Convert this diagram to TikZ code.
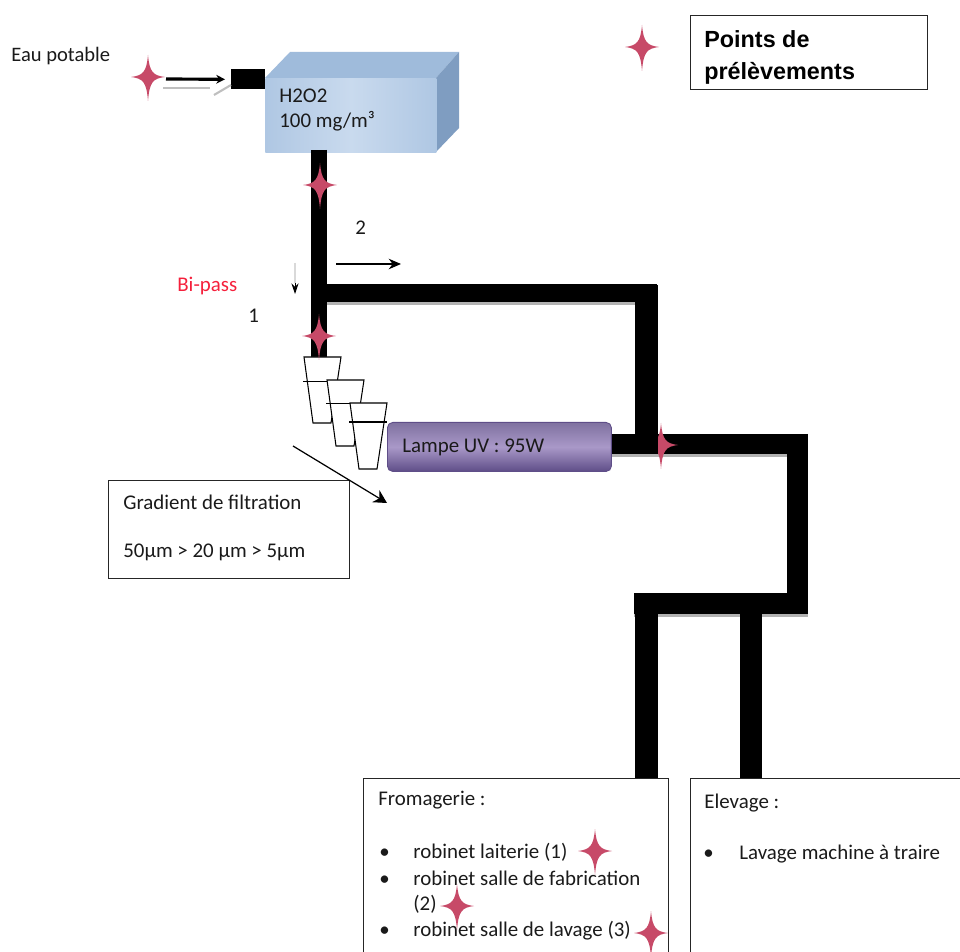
\documentclass[tikz,border=0pt]{standalone}
\usepackage{fontspec}
\usepackage{xcolor}
\usepackage{tikz}
\usetikzlibrary{arrows.meta}
\setmainfont{Carlito}
\newfontfamily\arialfont{Liberation Sans}
\definecolor{TankFront}{HTML}{C9DAEE}
\definecolor{TankEdge}{HTML}{AFC7E3}
\definecolor{TankTop}{HTML}{9FBBDB}
\definecolor{TankSide}{HTML}{7F9DC1}
\definecolor{LampDark}{HTML}{5F4E88}
\definecolor{LampMid}{HTML}{A998C8}
\definecolor{StarRed}{HTML}{C74A68}
\definecolor{BiPass}{HTML}{F5203C}
\definecolor{TextInk}{HTML}{1A1A1A}
\tikzset{
  lbl/.style={anchor=base west,inner sep=0pt,text=TextInk,font=\fontsize{11.9}{14}\selectfont},
  headlbl/.style={anchor=base west,inner sep=0pt,text=black,font=\arialfont\bfseries\fontsize{13.3}{15}\selectfont},
  framebox/.style={draw=black!85,line width=0.8pt,anchor=north west,inner sep=0pt},
  pipe/.style={draw=black,line cap=butt},
  pipeshade/.style={draw=black!30,line width=2.4pt},
  pointstar/.style={fill=StarRed},
  cup/.style={draw=black,line width=0.6pt,fill=white},
}
\begin{document}
\begin{tikzpicture}[x=0.02cm,y=-0.02cm]
    \useasboundingbox (0,0) rectangle (960,952);

    % tank
    \fill[TankTop] (265,78) -- (290,52) -- (459,52) -- (436,78) -- cycle;
    \fill[TankSide] (436,78) -- (459,52) -- (459,128) -- (436,152) -- cycle;
    \node[anchor=north west,inner sep=0pt,minimum width=3.42cm,minimum height=1.48cm,left color=TankEdge,right color=TankEdge,middle color=TankFront] (tank) at (265,78) {};
    \node[fill=black,anchor=north west,inner sep=0pt,minimum width=0.68cm,minimum height=0.4cm] (inlet) at (231,69) {};
    \node[lbl] (tankname) at (279,103) {H2O2};
    \node[lbl] (tankdose) at (279,128) {100 mg/m³};
    \node[lbl,font=\fontsize{11.7}{14}\selectfont] (eau) at (11,62) {Eau potable};

    \coordinate (inletstart) at (166,79);
    \coordinate (shadeA) at (163,88);
    \coordinate (shadeB) at (210,88);
    \coordinate (shadeC) at (214,95);
    \coordinate (shadeD) at (231,85);
    \draw[black!25,line width=1.6pt] (shadeA) -- (shadeB);
    \draw[black!25,line width=1.2pt] (shadeC) -- (shadeD);
    \draw[line width=1.8pt,-{Stealth[length=5pt,width=5pt]},shorten >=3.4pt] (inletstart) -- (inlet.west);

    % pipes
    \coordinate (tankout) at (319,150);
    \coordinate (bypass) at (311,293);
    \coordinate (filterin) at (319,358);
    \coordinate (branchend) at (657,293);
    \coordinate (branchtop) at (646,285);
    \coordinate (branchlow) at (646,454);
    \coordinate (rightend) at (808,444);
    \coordinate (rightdown) at (797.5,434);
    \coordinate (rightlow) at (797.5,614);
    \coordinate (bottomleft) at (634,603.5);
    \coordinate (bottomright) at (808,603.5);
    \coordinate (dropleft) at (646,593);
    \coordinate (dropright) at (751,614);

    \node[draw=LampDark,line width=0.5pt,anchor=north west,inner sep=0pt,rounded corners=3pt,minimum width=4.48cm,minimum height=0.98cm,top color=LampDark!80!white,bottom color=LampDark,middle color=LampMid] (lamp) at (387,422) {};
    \node[lbl] (lampname) at (402,453) {Lampe UV : 95W};

    \draw[pipeshade] ([yshift=-5.6pt]bypass -| tankout) -- ([yshift=-5.6pt]branchend);
    \draw[pipeshade] ([yshift=-6.1pt]lamp.east |- rightend) -- ([yshift=-6.1pt]rightdown |- rightend);
    \draw[pipeshade] ([yshift=-6.4pt]bottomleft) -- ([yshift=-6.4pt]bottomright);

    \draw[pipe,line width=9.1pt] (tankout) -- (filterin);
    \draw[pipe,line width=9.7pt] (bypass -| tankout) -- (branchend);
    \draw[pipe,line width=11.4pt] (lamp.east |- rightend) -- (rightend);

    % this one sits behind the branch pipe
    \fill[pointstar,shift={(661,445)}] (0,-22) .. controls (1.5,-5) and (5,-1.5) .. (17,0) .. controls (5,1.5) and (1.5,5) .. (0,24) .. controls (-1.5,5) and (-5,1.5) .. (-17,0) .. controls (-5,-1.5) and (-1.5,-5) .. (0,-22) -- cycle;

    \draw[pipe,line width=13.1pt] (branchtop) -- (branchlow);
    \draw[pipe,line width=12pt] (rightdown) -- (rightlow);
    \draw[pipe,line width=12pt] (bottomleft) -- (bottomright);

    % boxes
    \node[framebox,fill=white,minimum width=4.82cm,minimum height=1.96cm] (gradbox) at (108,480) {};
    \node[lbl] (gradname) at (123,510) {Gradient de filtration};
    \node[lbl] (gradsizes) at (123,558) {50µm > 20 µm > 5µm};
    \node[framebox,minimum width=6.1cm,minimum height=3.8cm] (frombox) at (363,778) {};
    \node[framebox,minimum width=6cm,minimum height=3.8cm] (elevbox) at (690,778) {};
    \node[framebox,minimum width=4.74cm,minimum height=1.48cm] (pointsbox) at (690,15) {};
    \begin{scope}
      \clip (pointsbox.north west) rectangle (pointsbox.south east);
      \node[headlbl] (pointsA) at (704,48) {Points de};
      \node[headlbl] (pointsB) at (704,80) {prélèvements};
    \end{scope}

    \draw[pipe,line width=13.1pt] (dropleft) -- (dropleft |- frombox.north);
    \draw[pipe,line width=12.5pt] (dropright) -- (dropright |- elevbox.north);

    % filters
    \foreach \s/\n/\r/\e in {0/A/381.7/327,23/B/403.3/350,46/C/422/387} {
      \draw[cup,shift={(\s,\s)}] (304,357) -- (341,357) -- (331,423) -- (313,423) -- cycle;
      \coordinate (rimL\n) at (303+\s,\r);
      \coordinate (rimR\n) at (\e,\r);
      \draw[black,line width=0.6pt] (rimL\n) -- (rimR\n);
    }

    % flow arrows and labels
    \coordinate (flowA) at (336,264);
    \coordinate (flowB) at (401,264);
    \draw[line width=0.7pt,-{Stealth[length=7pt,width=6pt]}] (flowA) -- (flowB);
    \coordinate (bypassA) at (295,263);
    \coordinate (bypassB) at (295,283);
    \coordinate (bypassC) at (295,294);
    \draw[black!15,line width=0.8pt] (bypassA) -- (bypassB);
    \draw[line width=0.5pt,-{Stealth[length=6pt,width=4pt]}] (bypassB) -- (bypassC);
    \coordinate (filterA) at (293,446);
    \coordinate (filterB) at (387,503);
    \draw[line width=0.7pt,-{Stealth[length=7.5pt,width=8pt]}] (filterA) -- (filterB);
    \node[lbl] (numtwo) at (355,235) {2};
    \node[lbl] (numone) at (248,323) {1};
    \node[lbl,text=BiPass] (bipass) at (177,292) {Bi-pass};

    % outlets
    \node[lbl] (fromname) at (378,805) {Fromagerie :};
    \foreach \y/\n/\t in {858/A/robinet laiterie (1),885/B/robinet salle de fabrication,936/C/robinet salle de lavage (3)} {
      \node[lbl] (frombul\n) at (379,\y) {•};
      \node[lbl] (fromtap\n) at (413,\y) {\t};
    }
    \node[lbl] (fromtwo) at (413,910) {(2)};
    \node[lbl] (elevname) at (704,808) {Elevage :};
    \node[lbl] (elevbul) at (703,859) {•};
    \node[lbl] (elevtap) at (739,859) {Lavage machine à traire};

    % sampling points
    \foreach \x/\y in {148/77,320/185,319/336,642/47,595/851,457/906,651/933} {
      \fill[pointstar,shift={(\x,\y)}] (0,-22) .. controls (1.5,-5) and (5,-1.5) .. (17,0) .. controls (5,1.5) and (1.5,5) .. (0,24) .. controls (-1.5,5) and (-5,1.5) .. (-17,0) .. controls (-5,-1.5) and (-1.5,-5) .. (0,-22) -- cycle;
    }
\end{tikzpicture}
\end{document}
